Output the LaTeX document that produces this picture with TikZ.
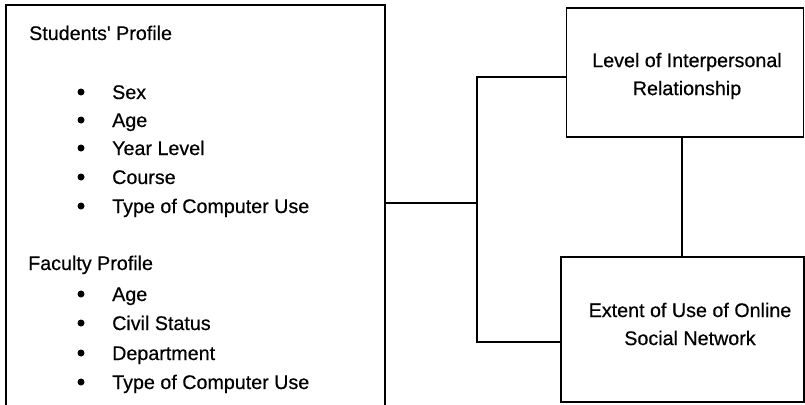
\documentclass[tikz,border=0pt]{standalone}
\usepackage{fontspec}
\setmainfont{Liberation Sans}
\newfontfamily\labfont{Liberation Sans}[UprightFeatures={FakeBold=0.5}]
\begin{document}
\begin{tikzpicture}[x=1pt,y=-1pt,
  frame/.style={draw=black,line width=1.8pt,inner sep=0pt,outer sep=0pt},
  label/.style={inner sep=0pt,anchor=base west,font=\labfont\fontsize{19.7}{28}\selectfont},
  bul/.style={circle,fill=black,inner sep=0pt,minimum size=7pt},
  boxtext/.style={inner sep=0pt,align=center,font=\labfont\fontsize{19.7}{28}\selectfont},
  link/.style={draw=black,line width=1.8pt}]
\useasboundingbox (0,0) rectangle (805,404);
\clip (0,0) rectangle (805,404);
\fill[white] (0,0) rectangle (805,404);

% profile box (runs past the lower edge)
\node[frame,minimum width=379pt,minimum height=430pt] (profile) at (195.5,220) {};
% outcome boxes
\node[frame,minimum width=237pt,minimum height=129pt] (level) at (685,72.5) {};
\node[frame,minimum width=243pt,minimum height=145pt] (extent) at (682.5,329.5) {};

% texts of the profile box
\node[label] (sp) at (29,40) {Students\textquotesingle\ Profile};
\foreach \y/\t [count=\i] in {99/Sex,127/Age,155/Year Level,184/Course,213/Type of Computer Use}{
  \node[bul] (sb\i) at (81,\y-7) {};
  \node[label] (st\i) at (112,\y) {\t};
}
\node[label] (fp) at (28,270) {Faculty Profile};
\foreach \y/\t [count=\i] in {301/Age,330/Civil Status,360/Department,389/Type of Computer Use}{
  \node[bul] (fb\i) at (81,\y-7) {};
  \node[label] (ft\i) at (112,\y) {\t};
}

% texts of the outcome boxes
\node[boxtext] (levelt) at (687,76) {Level of Interpersonal\\Relationship};
\node[boxtext] (extentt) at (690,324) {Extent of Use of Online\\Social Network};

% connectors
\coordinate (j) at (477,203);
\draw[link] (profile.east |- j) -- (j);
\draw[link] (level.west |- 0,77) -| (477,342) -- (extent.west |- 0,342);
\draw[link] (level.south -| 682,0) -- (extent.north -| 682,0);
\end{tikzpicture}
\end{document}
